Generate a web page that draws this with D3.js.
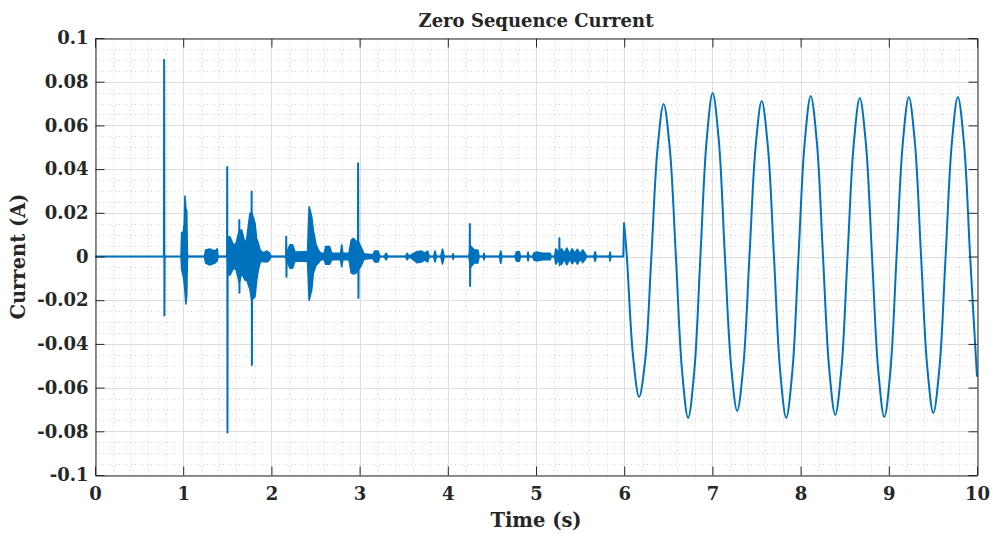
<!DOCTYPE html>
<html>
<head>
<meta charset="utf-8">
<script src="https://cdn.jsdelivr.net/npm/d3@7"></script>
<style>
  html, body { margin: 0; padding: 0; background: #fff; }
  svg { display: block; }
  text { font-family: "DejaVu Serif", serif; font-weight: bold; fill: #262626; }
</style>
</head>
<body>
<svg id="chart" width="993" height="534"></svg>
<script>
// ---------------- data ----------------
const titleText = "Zero Sequence Current";
const xLabelText = "Time (s)";
const yLabelText = "Current (A)";

const xTicks = [0, 1, 2, 3, 4, 5, 6, 7, 8, 9, 10];
const xTickLabels = ["0", "1", "2", "3", "4", "5", "6", "7", "8", "9", "10"];
const yTicks = [-0.1, -0.08, -0.06, -0.04, -0.02, 0, 0.02, 0.04, 0.06, 0.08, 0.1];
const yTickLabels = ["-0.1", "-0.08", "-0.06", "-0.04", "-0.02", "0", "0.02", "0.04", "0.06", "0.08", "0.1"];

// baseline trace with the isolated spikes (0 – 6 s)
const spikeT = [0, 0.781, 0.784, 0.787, 0.790, 1.497, 1.499, 1.502, 1.504, 1.634, 1.636, 1.638, 1.640,
  1.774, 1.776, 1.779, 1.781, 2.166, 2.168, 2.171, 2.173, 2.981, 2.983, 2.987, 2.989,
  4.248, 4.250, 4.253, 4.255, 5.263, 5.265, 5.268, 5.270, 5.990, 5.998];
const spikeV = [0, 0, 0.09, -0.027, 0, 0, 0.041, -0.0805, 0, 0, 0.0167, -0.0166, 0,
  0, 0.0297, -0.0497, 0, 0, 0.009, -0.0093, 0, 0, 0.0427, -0.019, 0,
  0, 0.0149, -0.0135, 0, 0, 0.0083, -0.004, 0, 0, 0.0155];

// envelope of the dense oscillation bursts (upper / lower)
const burstT = [0.975, 0.983, 1.000, 1.012, 1.020, 1.030, 1.040, 1.047, 1.052,
  1.240, 1.255, 1.300, 1.360, 1.385, 1.395,
  1.503, 1.510, 1.530, 1.568, 1.600, 1.636, 1.663, 1.701, 1.720, 1.757, 1.777, 1.814, 1.833, 1.852, 1.871, 1.890, 1.910, 1.950, 1.980, 1.995,
  2.160, 2.175, 2.211, 2.240, 2.268, 2.410, 2.428, 2.457, 2.475, 2.506, 2.532, 2.560, 2.600, 2.615, 2.660, 2.684,
  2.730, 2.785, 2.797, 2.810, 2.880, 2.905, 2.930, 2.960, 2.990, 3.020, 3.050, 3.150, 3.170, 3.210, 3.230,
  3.280, 3.300, 3.320, 3.520, 3.540, 3.560, 3.600, 3.650, 3.700, 3.740, 3.770, 3.790,
  3.840, 3.855, 3.870, 3.920, 3.940, 3.960, 4.050, 4.060, 4.070,
  4.240, 4.255, 4.300, 4.340, 4.355, 4.400, 4.410, 4.420, 4.585, 4.600, 4.615,
  4.760, 4.780, 4.810, 4.825, 4.900, 4.910, 4.920, 4.960, 4.975, 5.000, 5.080, 5.160, 5.175,
  5.210, 5.225, 5.250, 5.290, 5.320, 5.350, 5.380, 5.410, 5.440, 5.470, 5.500, 5.530, 5.560, 5.575,
  5.655, 5.670, 5.685, 5.830, 5.840, 5.850];
const burstHi = [0, 0.011, 0.011, 0.015, 0.0277, 0.022, 0.021, 0.002, 0,
  0, 0.003, 0.0034, 0.0025, 0.0035, 0,
  0, 0.009, 0.009, 0.0053, 0.006, 0.012, 0.0121, 0.006, 0.008, 0.0198, 0.02, 0.0152, 0.008, 0.006, 0.003, 0.0022, 0.0017, 0.0025, 0.0015, 0,
  0, 0.002, 0.0053, 0.0053, 0.002, 0.0023, 0.0228, 0.0182, 0.0121, 0.0053, 0.003, 0.0015, 0.0015, 0.0045, 0.0045, 0.0015,
  0.0015, 0.0015, 0.0053, 0.0015, 0.0015, 0.0075, 0.0083, 0.007, 0.0065, 0.004, 0.0012, 0.0008, 0.0025, 0.0025, 0,
  0, 0.0015, 0, 0, 0.0015, 0, 0.0012, 0.0022, 0.0025, 0.0015, 0.0025, 0,
  0, 0.0025, 0, 0, 0.0034, 0, 0, 0.0012, 0,
  0, 0.005, 0.003, 0.003, 0, 0, 0.0015, 0, 0, 0.0025, 0,
  0, 0.0022, 0.0022, 0, 0, 0.002, 0, 0, 0.0015, 0.002, 0.0015, 0.0015, 0,
  0, 0.0035, 0.002, 0.0035, 0.0015, 0.0038, 0.0012, 0.0035, 0.0015, 0.0033, 0.0012, 0.003, 0.0012, 0,
  0, 0.0022, 0, 0, 0.002, 0];
const burstLo = [0, -0.006, -0.009, -0.012, -0.016, -0.0217, -0.018, -0.002, 0,
  0, -0.003, -0.0039, -0.003, -0.002, 0,
  0, -0.0085, -0.0085, -0.0054, -0.006, -0.012, -0.0077, -0.0108, -0.0108, -0.015, -0.02, -0.0184, -0.011, -0.006, -0.003, -0.002, -0.0024, -0.0025, -0.0015, 0,
  0, -0.002, -0.0054, -0.0054, -0.002, -0.0023, -0.020, -0.0153, -0.0077, -0.004, -0.003, -0.0015, -0.0015, -0.0035, -0.0035, -0.0015,
  -0.0015, -0.0015, -0.0047, -0.0015, -0.0015, -0.0075, -0.008, -0.0075, -0.006, -0.004, -0.0012, -0.0008, -0.0025, -0.0025, 0,
  0, -0.0015, 0, 0, -0.0015, 0, -0.0012, -0.0028, -0.0025, -0.0015, -0.0025, 0,
  0, -0.0025, 0, 0, -0.0034, 0, 0, -0.0012, 0,
  0, -0.005, -0.003, -0.003, 0, 0, -0.0015, 0, 0, -0.0031, 0,
  0, -0.0022, -0.0022, 0, 0, -0.002, 0, 0, -0.0015, -0.002, -0.0015, -0.0015, 0,
  0, -0.0035, -0.0018, -0.0036, -0.0012, -0.0038, -0.0012, -0.0033, -0.0015, -0.0035, -0.0012, -0.0028, -0.0012, 0,
  0, -0.0022, 0, 0, -0.002, 0];

// sustained oscillation after the fault (6 – 10 s)
const sineT = [5.998, 6.030, 6.100, 6.169, 6.238, 6.308, 6.378, 6.447, 6.517, 6.586, 6.656, 6.725, 6.795, 6.864,
  6.934, 7.003, 7.073, 7.142, 7.212, 7.281, 7.351, 7.420, 7.490, 7.559, 7.629, 7.698, 7.768, 7.837, 7.907, 7.976,
  8.046, 8.115, 8.185, 8.254, 8.324, 8.393, 8.463, 8.532, 8.602, 8.671, 8.741, 8.810, 8.880, 8.949, 9.019, 9.088,
  9.158, 9.227, 9.297, 9.366, 9.436, 9.505, 9.575, 9.644, 9.714, 9.783, 9.853, 9.922, 10.0];
const sineV = [0.0155, 0.0, -0.0455, -0.0643, -0.0475, 0.0, 0.0494, 0.0698, 0.0494, 0.0, -0.0523, -0.0739, -0.0523, 0.0,
  0.0529, 0.0748, 0.0529, 0.0, -0.0500, -0.0707, -0.0500, 0.0, 0.0503, 0.0712, 0.0503, 0.0, -0.0523, -0.0739, -0.0523, 0.0,
  0.0520, 0.0735, 0.0520, 0.0, -0.0513, -0.0725, -0.0513, 0.0, 0.0513, 0.0725, 0.0513, 0.0, -0.0520, -0.0735, -0.0520, 0.0,
  0.0516, 0.0730, 0.0516, 0.0, -0.0506, -0.0716, -0.0506, 0.0, 0.0516, 0.0730, 0.0516, 0.0, -0.055];

// ---------------- drawing ----------------
const W = 993, H = 534;
const mLeft = 95, mRight = 977, mTop = 38, mBottom = 475;
const lineColor = "#0072BD";

const svg = d3.select("#chart");
svg.append("rect").attr("width", W).attr("height", H).attr("fill", "#fff");

const x = d3.scaleLinear().domain([0, 10]).range([mLeft, mRight]);
const y = d3.scaleLinear().domain([-0.1, 0.1]).range([mBottom, mTop]);

// minor grid (dotted)
const xMinor = d3.range(0, 10.0001, 0.2).filter(v => Math.abs(v - Math.round(v)) > 1e-6);
const yMinor = d3.range(-0.1, 0.10001, 0.005).filter(v => Math.abs(v / 0.02 - Math.round(v / 0.02)) > 1e-6);
const grid = svg.append("g");
grid.selectAll("line.xm").data(xMinor).join("line")
  .attr("x1", d => Math.round(x(d)) + 0.5).attr("x2", d => Math.round(x(d)) + 0.5)
  .attr("y1", mTop).attr("y2", mBottom)
  .attr("stroke", "#d6d6d6").attr("stroke-width", 1).attr("stroke-dasharray", "1,3");
grid.selectAll("line.ym").data(yMinor).join("line")
  .attr("y1", d => Math.round(y(d)) + 0.5).attr("y2", d => Math.round(y(d)) + 0.5)
  .attr("x1", mLeft).attr("x2", mRight)
  .attr("stroke", "#d6d6d6").attr("stroke-width", 1).attr("stroke-dasharray", "1,3");
// major grid (solid)
grid.selectAll("line.xg").data(xTicks).join("line")
  .attr("x1", d => Math.round(x(d)) + 0.5).attr("x2", d => Math.round(x(d)) + 0.5)
  .attr("y1", mTop).attr("y2", mBottom)
  .attr("stroke", "#dedede").attr("stroke-width", 1);
grid.selectAll("line.yg").data(yTicks).join("line")
  .attr("y1", d => Math.round(y(d)) + 0.5).attr("y2", d => Math.round(y(d)) + 0.5)
  .attr("x1", mLeft).attr("x2", mRight)
  .attr("stroke", "#dedede").attr("stroke-width", 1);

// data
const plot = svg.append("g");
const area = d3.area()
  .x((d, i) => x(burstT[i]))
  .y0((d, i) => y(burstLo[i]))
  .y1((d, i) => y(burstHi[i]));
plot.append("path")
  .attr("d", area(burstT))
  .attr("fill", lineColor).attr("stroke", lineColor).attr("stroke-width", 1.6)
  .attr("stroke-linejoin", "round");

const spikeLine = d3.line()
  .x((d, i) => x(spikeT[i]))
  .y((d, i) => y(spikeV[i]));
plot.append("path")
  .attr("d", spikeLine(spikeT))
  .attr("fill", "none").attr("stroke", lineColor).attr("stroke-width", 2)
  .attr("stroke-linejoin", "round");

const sineLine = d3.line()
  .x((d, i) => x(sineT[i]))
  .y((d, i) => y(sineV[i]))
  .curve(d3.curveCatmullRom.alpha(0.5));
plot.append("path")
  .attr("d", sineLine(sineT))
  .attr("fill", "none").attr("stroke", lineColor).attr("stroke-width", 2)
  .attr("stroke-linejoin", "round");

// axes
const axColor = "#262626";
const tickFont = 18;
const xAxisB = d3.axisBottom(x).tickValues(xTicks).tickFormat((d, i) => xTickLabels[i])
  .tickSizeInner(-9).tickSizeOuter(0).tickPadding(12);
const xAxisT = d3.axisTop(x).tickValues(xTicks).tickFormat("").tickSizeInner(-9).tickSizeOuter(0);
const yAxisL = d3.axisLeft(y).tickValues(yTicks).tickFormat((d, i) => yTickLabels[i])
  .tickSizeInner(-9).tickSizeOuter(0).tickPadding(7);
const yAxisR = d3.axisRight(y).tickValues(yTicks).tickFormat("").tickSizeInner(-9).tickSizeOuter(0);

function styleAxis(g) {
  g.selectAll("path.domain").attr("stroke", axColor).attr("stroke-width", 1);
  g.selectAll(".tick line").attr("stroke", axColor).attr("stroke-width", 1);
  g.selectAll(".tick text").attr("fill", axColor)
    .style("font-family", "'DejaVu Serif', serif").style("font-weight", "bold")
    .style("font-size", tickFont + "px");
}
svg.append("g").attr("transform", `translate(0,${mBottom + 0.5})`).call(xAxisB).call(styleAxis);
svg.append("g").attr("transform", `translate(0,${mTop + 0.5})`).call(xAxisT).call(styleAxis);
svg.append("g").attr("transform", `translate(${mLeft + 0.5},0)`).call(yAxisL).call(styleAxis);
svg.append("g").attr("transform", `translate(${mRight + 0.5},0)`).call(yAxisR).call(styleAxis);

// texts
svg.append("text").attr("x", (mLeft + mRight) / 2).attr("y", 27)
  .attr("text-anchor", "middle").style("font-size", "18px").attr("fill", "#000")
  .text(titleText);
svg.append("text").attr("x", (mLeft + mRight) / 2).attr("y", 527)
  .attr("text-anchor", "middle").style("font-size", "19.5px")
  .text(xLabelText);
svg.append("text").attr("transform", `translate(25,${(mTop + mBottom) / 2}) rotate(-90)`)
  .attr("text-anchor", "middle").style("font-size", "19.5px")
  .text(yLabelText);
</script>
</body>
</html>
